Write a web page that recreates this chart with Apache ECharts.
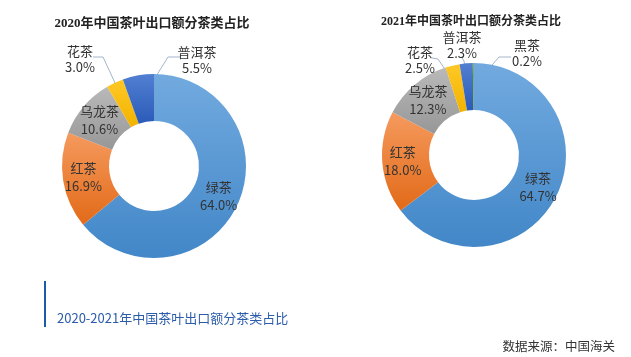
<!DOCTYPE html>
<html>
<head>
<meta charset="utf-8">
<script src="https://cdn.jsdelivr.net/npm/echarts@6/dist/echarts.min.js"></script>
<style>
html,body{margin:0;padding:0;background:#fff;}
#main{width:631px;height:357px;}
</style>
</head>
<body>
<div id="main"></div>
<script>
// ---- data ----
const categories2020 = ['绿茶', '红茶', '乌龙茶', '花茶', '普洱茶'];
const values2020 = [64.0, 16.9, 10.6, 3.0, 5.5];
const categories2021 = ['绿茶', '红茶', '乌龙茶', '花茶', '普洱茶', '黑茶'];
const values2021 = [64.7, 18.0, 12.3, 2.5, 2.3, 0.2];
const title2020 = '2020年中国茶叶出口额分茶类占比';
const title2021 = '2021年中国茶叶出口额分茶类占比';
const captionText = '2020-2021年中国茶叶出口额分茶类占比';
const sourceText = '数据来源：中国海关';

// ---- styles ----
const colorMap = {
  '绿茶': ['#72AADF', '#4287C8'],
  '红茶': ['#F59A5E', '#E26A18'],
  '乌龙茶': ['#B9B9B9', '#979797'],
  '花茶': ['#FFC826', '#F2B300'],
  '普洱茶': ['#527FD2', '#2A5BB8'],
  '黑茶': ['#7DBA52', '#64A03C']
};
// outside label placement: label centre, leader-line start and elbow
const outside2020 = {
  '花茶': { x: 80, y: 59, pts: [[93, 57], [103, 57]] },
  '普洱茶': { x: 197, y: 60, pts: [[180, 57], [168, 57]] }
};
const outside2021 = {
  '花茶': { x: 420, y: 60, pts: [[432, 58], [438, 59]] },
  '普洱茶': { x: 462, y: 45, pts: [[462, 58], [464, 61]] },
  '黑茶': { x: 527, y: 53, pts: [[511, 57], [499, 57]] }
};

const chart = echarts.init(document.getElementById('main'), null, { renderer: 'canvas' });
const labelFont = '"Microsoft YaHei","Noto Sans CJK SC","Noto Sans",sans-serif';

function buildData(cats, vals, outside) {
  return cats.map((c, i) => {
    const col = colorMap[c];
    const item = {
      name: c,
      value: vals[i],
      itemStyle: {
        color: {
          type: 'linear', x: 0, y: 0, x2: 0, y2: 1,
          colorStops: [{ offset: 0, color: col[0] }, { offset: 1, color: col[1] }]
        }
      }
    };
    if (outside[c]) {
      item.label = { position: 'outside', lineHeight: 16 };
      item.labelLine = { show: true };
    }
    return item;
  });
}

function makeLayout(seriesIndex, outside) {
  return function (params) {
    const name = seriesIndex === 0 ? categories2020[params.dataIndex] : categories2021[params.dataIndex];
    const o = outside[name];
    if (!o) return;
    let ex, ey;
    try {
      const lay = chart.getModel().getSeriesByIndex(seriesIndex).getData().getItemLayout(params.dataIndex);
      const mid = (lay.startAngle + lay.endAngle) / 2;
      const rr = (lay.r + lay.r0) / 2;
      ex = lay.cx + Math.cos(mid) * rr;
      ey = lay.cy + Math.sin(mid) * rr;
    } catch (e) {
      ex = params.rect.x + params.rect.width / 2;
      ey = params.rect.y + params.rect.height / 2;
    }
    return {
      x: o.x, y: o.y, align: 'center', verticalAlign: 'middle',
      labelLinePoints: [o.pts[0], o.pts[1], [ex, ey]]
    };
  };
}

function pieSeries(idx, cats, vals, center, outside) {
  return {
    type: 'pie',
    center: center,
    radius: [45, 92],
    startAngle: 90,
    clockwise: true,
    avoidLabelOverlap: false,
    silent: true,
    animation: false,
    data: buildData(cats, vals, outside),
    itemStyle: { borderWidth: 0 },
    label: {
      show: true,
      position: 'inside',
      formatter: p => p.name + '\n' + p.value.toFixed(1) + '%',
      color: '#333333',
      fontSize: 13,
      lineHeight: 18,
      fontFamily: labelFont
    },
    labelLine: { show: false, lineStyle: { color: '#A3B5CB', width: 1 } },
    labelLayout: makeLayout(idx, outside),
    emphasis: { disabled: true }
  };
}

const option = {
  animation: false,
  backgroundColor: '#ffffff',
  series: [
    pieSeries(0, categories2020, values2020, [154, 166], outside2020),
    pieSeries(1, categories2021, values2021, [474, 155], outside2021)
  ],
  graphic: [
    { type: 'text', x: 152, y: 24, style: { text: title2020, textAlign: 'center', textVerticalAlign: 'middle', fill: '#222222', font: 'bold 13px "Liberation Serif","Noto Sans CJK SC",serif' } },
    { type: 'text', x: 471, y: 22, style: { text: title2021, textAlign: 'center', textVerticalAlign: 'middle', fill: '#222222', font: 'bold 12px "Liberation Serif","Noto Sans CJK SC",serif' } },
    { type: 'rect', shape: { x: 44, y: 281, width: 2, height: 46 }, style: { fill: '#1E59B0' } },
    { type: 'text', x: 57, y: 318, style: { text: captionText, textAlign: 'left', textVerticalAlign: 'middle', fill: '#2B5CAA', font: '13px "Noto Sans CJK SC","Noto Sans",sans-serif' } },
    { type: 'text', x: 615, y: 346, style: { text: sourceText, textAlign: 'right', textVerticalAlign: 'middle', fill: '#333333', font: '12.5px "Noto Sans CJK SC","Noto Sans",sans-serif' } }
  ]
};
chart.setOption(option);
</script>
</body>
</html>
